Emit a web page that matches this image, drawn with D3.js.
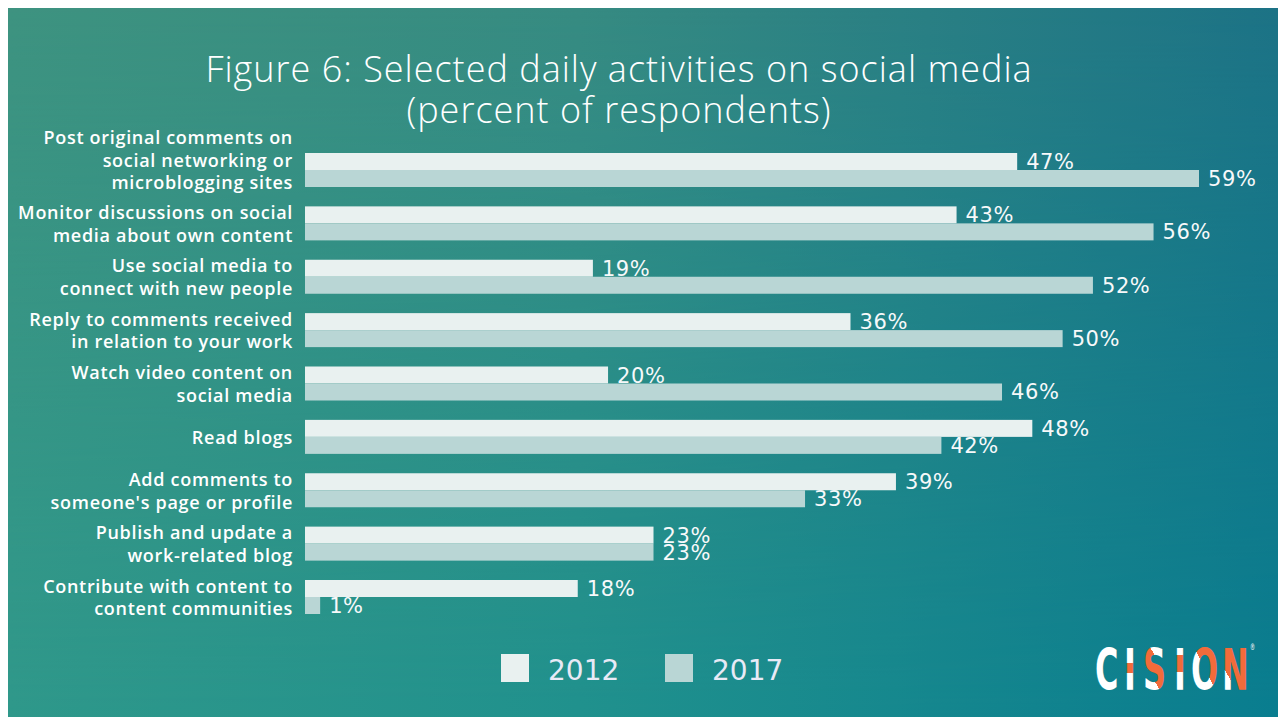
<!DOCTYPE html>
<html>
<head>
<meta charset="utf-8">
<script src="https://cdn.jsdelivr.net/npm/d3@7/dist/d3.min.js"></script>
<style>
  html, body { margin: 0; padding: 0; background: #ffffff; }
  svg { display: block; }
</style>
</head>
<body>
<svg id="chart" width="1278" height="717"></svg>
<script>
// Activities surveyed, wrapped into display lines
const categories = [
  ["Post original comments on", "social networking or", "microblogging sites"],
  ["Monitor discussions on social", "media about own content"],
  ["Use social media to", "connect with new people"],
  ["Reply to comments received", "in relation to your work"],
  ["Watch video content on", "social media"],
  ["Read blogs"],
  ["Add comments to", "someone's page or profile"],
  ["Publish and update a", "work-related blog"],
  ["Contribute with content to", "content communities"]
];
const seriesNames = ["2012", "2017"];
const values2012 = [47, 43, 19, 36, 20, 48, 39, 23, 18];
const values2017 = [59, 56, 52, 50, 46, 42, 33, 23, 1];
const titleLines = ["Figure 6: Selected daily activities on social media", "(percent of respondents)"];

const W = 1278, H = 717;
const svg = d3.select("#chart");
const defs = svg.append("defs");

// Background: teal-green panel, greener to the left, bluer to the right and lower edge
const topGrad = defs.append("linearGradient").attr("id", "bgTop")
  .attr("x1", 0).attr("y1", 0).attr("x2", 1).attr("y2", 0);
[["0%", "#3e9380"], ["45%", "#378b82"], ["100%", "#1d7386"]].forEach(([o, c]) =>
  topGrad.append("stop").attr("offset", o).attr("stop-color", c));
const botGrad = defs.append("linearGradient").attr("id", "bgBot")
  .attr("x1", 0).attr("y1", 0).attr("x2", 1).attr("y2", 0);
[["0%", "#2f988a"], ["45%", "#20918d"], ["100%", "#097d8f"]].forEach(([o, c]) =>
  botGrad.append("stop").attr("offset", o).attr("stop-color", c));
const vMask = defs.append("linearGradient").attr("id", "bgV")
  .attr("x1", 0).attr("y1", 0).attr("x2", 0).attr("y2", 1);
vMask.append("stop").attr("offset", "0%").attr("stop-color", "#000");
vMask.append("stop").attr("offset", "100%").attr("stop-color", "#fff");
defs.append("mask").attr("id", "bgMask")
  .append("rect").attr("x", 0).attr("y", 0).attr("width", W).attr("height", H).attr("fill", "url(#bgV)");

const panel = { x: 8, y: 8, w: W - 8, h: H - 8 };
svg.append("rect").attr("x", panel.x).attr("y", panel.y).attr("width", panel.w).attr("height", panel.h)
  .attr("fill", "url(#bgTop)");
svg.append("rect").attr("x", panel.x).attr("y", panel.y).attr("width", panel.w).attr("height", panel.h)
  .attr("fill", "url(#bgBot)").attr("mask", "url(#bgMask)");

// Title
svg.append("g").selectAll("text").data(titleLines).join("text")
  .attr("x", 619)
  .attr("y", (d, i) => 82 + i * 41)
  .attr("text-anchor", "middle")
  .attr("fill", "#ffffff")
  .attr("font-family", "'Open Sans', sans-serif")
  .attr("font-weight", 300)
  .attr("font-size", 36)
  .attr("letter-spacing", 1)
  .text(d => d);

// Scales
const x = d3.scaleLinear().domain([0, 59]).range([305, 1199]);
const y = d3.scaleBand().domain(d3.range(categories.length)).range([153, 614]).paddingInner(0.363).paddingOuter(0);
const sub = d3.scaleBand().domain(seriesNames).range([0, y.bandwidth()]);
const colors = { "2012": "#e9f1f0", "2017": "#b9d6d5" };

const rows = categories.map((c, i) => ({ i, lines: c, v: { "2012": values2012[i], "2017": values2017[i] } }));

// Category labels
const labelG = svg.append("g");
rows.forEach(r => {
  const n = r.lines.length;
  const cy = y(r.i) + y.bandwidth() / 2;
  const shift = n > 2 ? -(n - 2) * 9 : 1;
  labelG.append("text")
    .attr("text-anchor", "end")
    .attr("fill", "#ffffff")
    .attr("font-family", "'Open Sans', sans-serif")
    .attr("font-weight", 600)
    .attr("font-size", 18)
    .attr("letter-spacing", 0.7)
    .selectAll("tspan").data(r.lines).join("tspan")
    .attr("x", 293)
    .attr("y", (d, k) => cy + shift + (k - (n - 1) / 2) * 22.5 + 6)
    .text(d => d);
});

// Value labels sit beneath the bars so the next bar can overlap them
const flat = rows.flatMap(r => seriesNames.map(s => ({ i: r.i, s, v: r.v[s] })));
svg.append("g").selectAll("text").data(flat).join("text")
  .attr("x", d => x(d.v) + 9)
  .attr("y", d => y(d.i) + sub(d.s) + sub.bandwidth() - 1)
  .attr("fill", "#f7f9fa")
  .attr("font-family", "'DejaVu Sans', sans-serif")
  .attr("font-size", 21)
  .attr("letter-spacing", 0.6)
  .text(d => d.v + "%");

// Bars
svg.append("g").selectAll("rect").data(flat).join("rect")
  .attr("x", x(0))
  .attr("y", d => y(d.i) + sub(d.s))
  .attr("width", d => x(d.v) - x(0))
  .attr("height", sub.bandwidth())
  .attr("fill", d => colors[d.s]);

// Legend
const legend = svg.append("g").selectAll("g").data(seriesNames).join("g")
  .attr("transform", (d, i) => `translate(${501 + i * 164},654)`);
legend.append("rect").attr("width", 28).attr("height", 28).attr("fill", d => colors[d]);
legend.append("text")
  .attr("x", 47).attr("y", 26)
  .attr("fill", "#e8eaf6")
  .attr("font-family", "'DejaVu Sans', sans-serif")
  .attr("font-size", 28)
  .text(d => d);

// Brand mark: one horizontally squeezed word; each letter carries a
// hard-stop gradient that gives its orange segment
const ORANGE = "#f26b3a", WHITE = "#ffffff";
const LX = 1096, LY = 690, SX = 0.56;
const toLocal = (px, py) => [(px - LX) / SX, py - LY];
const glyphs = [
  { ch: "C", x: 1095, g: [1096, 690, 1096, 646], band: null },
  { ch: "I", x: 1124, g: [1128, 646, 1128, 690], band: [0.39, 0.61] },
  { ch: "S", x: 1143, g: [1145, 690, 1168, 646], band: [0.3, 0.62] },
  { ch: "I", x: 1174, g: [1178, 646, 1178, 690], band: [0.2, 0.58] },
  { ch: "O", x: 1191, g: [1193, 690, 1218, 650], band: [0.5, 1.01] },
  { ch: "N", x: 1222, g: [1224, 690, 1245, 650], band: [0.28, 1.01] }
];
glyphs.forEach((d, i) => {
  const [a1, b1] = toLocal(d.g[0], d.g[1]);
  const [a2, b2] = toLocal(d.g[2], d.g[3]);
  const lg = defs.append("linearGradient").attr("id", "logoFill" + i)
    .attr("gradientUnits", "userSpaceOnUse")
    .attr("x1", a1).attr("y1", b1).attr("x2", a2).attr("y2", b2);
  const stops = d.band
    ? [[0, WHITE], [d.band[0], WHITE], [d.band[0], ORANGE], [Math.min(d.band[1], 1), ORANGE],
       [Math.min(d.band[1], 1), d.band[1] > 1 ? ORANGE : WHITE], [1, d.band[1] > 1 ? ORANGE : WHITE]]
    : [[0, WHITE], [1, WHITE]];
  stops.forEach(([o, c]) => lg.append("stop").attr("offset", o).attr("stop-color", c));
});
const logo = svg.append("text")
  .attr("transform", `translate(${LX},${LY}) scale(${SX},1)`)
  .attr("font-family", "'DejaVu Sans', sans-serif")
  .attr("font-weight", 700)
  .attr("font-size", 57);
logo.selectAll("tspan.l").data(glyphs).join("tspan")
  .attr("class", "l")
  .attr("x", d => toLocal(d.x, 0)[0]).attr("y", 0)
  .attr("fill", (d, i) => `url(#logoFill${i})`)
  .text(d => d.ch);
logo.append("tspan")
  .attr("x", toLocal(1250, 0)[0]).attr("y", -40)
  .attr("font-size", 9).attr("font-weight", 400)
  .attr("fill", WHITE)
  .text("®");
</script>
</body>
</html>
